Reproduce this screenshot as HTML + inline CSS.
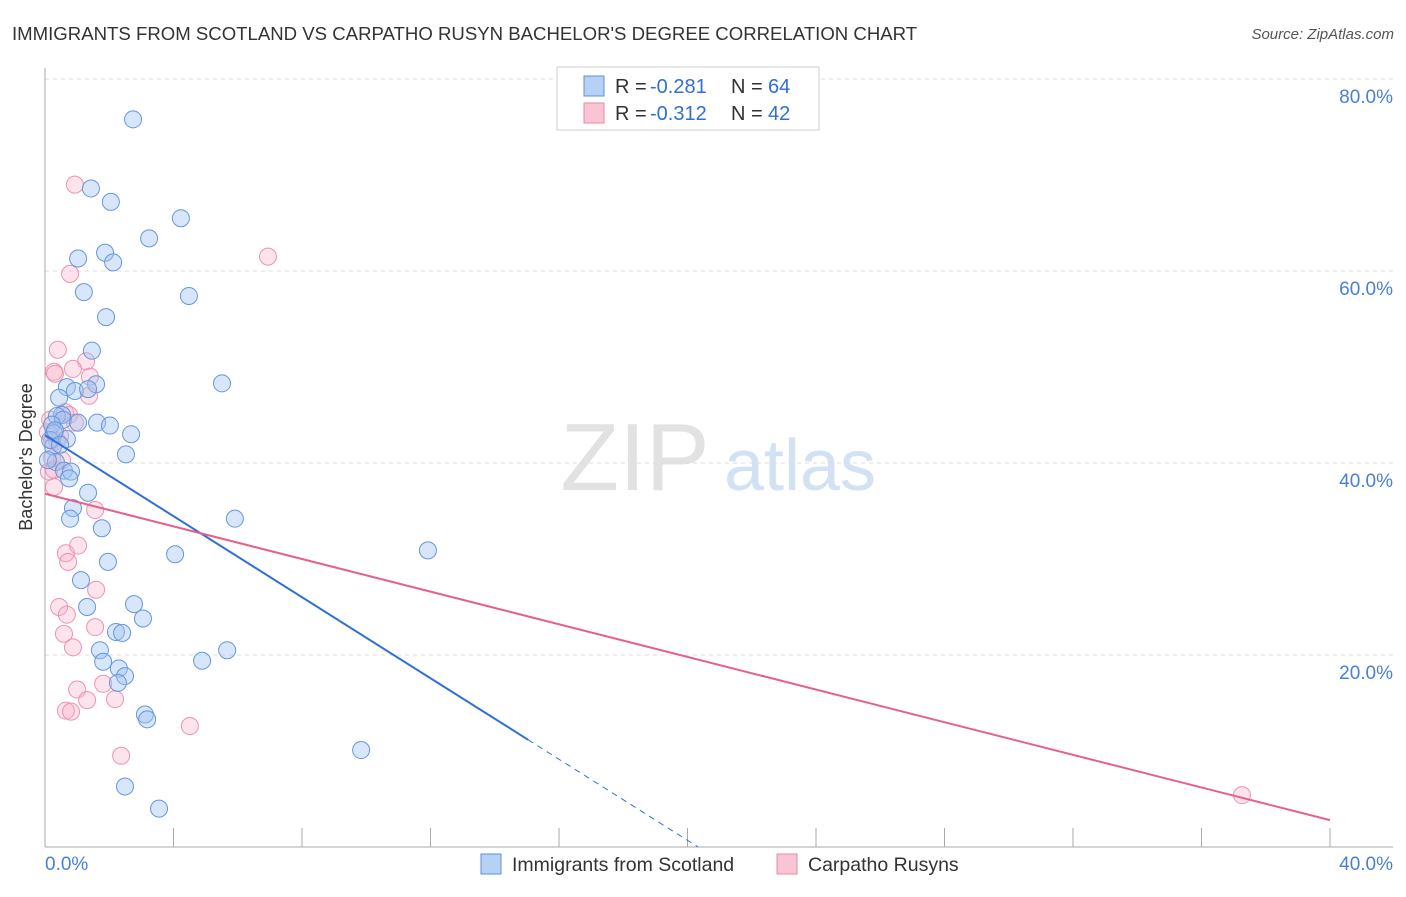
<!DOCTYPE html>
<html><head><meta charset="utf-8"><style>
body{margin:0;background:#fff;font-family:"Liberation Sans",sans-serif;}
svg text{font-family:"Liberation Sans",sans-serif;}
</style></head><body>
<svg width="1406" height="892" id="chart">
<text x="12" y="40" font-size="18.6" fill="#333">IMMIGRANTS FROM SCOTLAND VS CARPATHO RUSYN BACHELOR'S DEGREE CORRELATION CHART</text>
<text x="1394" y="39" font-size="15" fill="#555" font-style="italic" text-anchor="end">Source: ZipAtlas.com</text>
<text x="32" y="457" font-size="18" fill="#333" text-anchor="middle" transform="rotate(-90 32 457)">Bachelor's Degree</text>
<g><text x="635" y="490" font-size="96" fill="#e2e2e2" font-family="Liberation Serif" text-anchor="middle">ZIP</text><text x="800" y="490" font-size="72" fill="#d3e1f5" text-anchor="middle">atlas</text></g>
<g id="grid"></g><g id="axes"></g><g id="pts"></g><g id="trend"></g>
<g>
<rect x="557" y="67" width="262" height="63" fill="#fff" stroke="#ccc"/>
<rect x="584" y="76" width="20" height="20" fill="#b7d1f5" stroke="#5b8fdc"/>
<text x="615" y="93" font-size="20" fill="#333">R =</text><text x="650" y="93" font-size="20" fill="#2f6fd8">-0.281</text>
<text x="731" y="93" font-size="20" fill="#333">N =</text><text x="768" y="93" font-size="20" fill="#2f6fd8">64</text>
<rect x="584" y="103" width="20" height="20" fill="#f9c4d3" stroke="#e88aa8"/>
<text x="615" y="120" font-size="20" fill="#333">R =</text><text x="650" y="120" font-size="20" fill="#2f6fd8">-0.312</text>
<text x="731" y="120" font-size="20" fill="#333">N =</text><text x="768" y="120" font-size="20" fill="#2f6fd8">42</text>
</g>
<g>
<rect x="481" y="854" width="20" height="20" fill="#b7d1f5" stroke="#5b8fdc"/>
<text x="512" y="871" font-size="19.5" fill="#333">Immigrants from Scotland</text>
<rect x="777" y="854" width="20" height="20" fill="#f9c4d3" stroke="#e88aa8"/>
<text x="808" y="871" font-size="19.5" fill="#333">Carpatho Rusyns</text>
</g>
</svg>
<script>
const blueX=[2.74,1.43,2.05,4.23,3.24,1.03,1.87,2.12,1.21,4.48,1.90,1.46,5.51,0.68,1.59,0.93,1.34,0.44,0.53,0.37,0.56,1.03,1.62,2.02,2.68,0.22,0.28,0.68,2.52,0.25,0.34,0.59,0.81,0.75,1.34,0.87,0.78,5.91,1.77,4.05,11.92,1.96,1.12,2.77,1.31,3.05,2.21,2.40,1.71,5.67,4.89,1.81,2.30,2.49,2.27,3.11,3.18,9.84,2.49,3.55,0.16,0.31,0.47,0.09];
const blueY=[75.8,68.6,67.2,65.5,63.4,61.3,61.9,60.9,57.8,57.4,55.2,51.7,48.3,47.9,48.2,47.5,47.7,46.8,45.0,44.9,44.5,44.2,44.2,43.9,43.0,44.0,43.1,42.5,40.9,41.7,40.1,39.2,39.1,38.4,36.9,35.3,34.2,34.2,33.2,30.5,30.9,29.7,27.8,25.3,25.0,23.8,22.4,22.3,20.5,20.5,19.4,19.3,18.6,17.8,17.1,13.8,13.3,10.1,6.3,4.0,42.4,43.4,41.9,40.3];
const pinkX=[0.93,0.78,6.94,0.40,0.28,1.28,0.87,1.40,1.37,0.31,0.62,0.75,0.93,0.09,0.47,0.37,0.22,0.12,0.28,0.28,1.56,0.65,1.03,0.72,1.59,0.44,0.68,0.59,1.56,0.87,1.00,1.81,1.31,2.18,0.65,0.81,4.51,2.37,37.26,0.22,0.53,0.16];
const pinkY=[69.0,59.7,61.5,51.8,49.5,50.6,49.8,49.0,47.0,49.3,45.3,45.0,44.2,43.2,42.8,42.3,40.5,39.1,39.3,37.5,35.1,30.6,31.4,29.7,26.8,25.0,24.2,22.2,22.9,20.8,16.4,17.0,15.3,15.4,14.2,14.1,12.6,9.5,5.4,42.4,40.3,44.5];
const yTicks=[20,40,60,80];
const yTickLabels=["20.0%","40.0%","60.0%","80.0%"];
const blueTrend=[42.9,-2.11];
const pinkTrend=[36.8,-0.85];
const X0=45,X1=1330,Y0=847,Y1=79;
const sx=v=>X0+(v/40)*(X1-X0);
const sy=v=>Y0-(v/80)*(Y0-Y1);
const NS="http://www.w3.org/2000/svg";
function mk(p,t,a){const e=document.createElementNS(NS,t);for(const k in a)e.setAttribute(k,a[k]);p.appendChild(e);return e;}
const grid=document.getElementById('grid'),axes=document.getElementById('axes');
yTicks.forEach((t,i)=>{
 const l=mk(grid,'line',{x1:45,x2:1393,y1:sy(t),y2:sy(t),stroke:'#ddd','stroke-dasharray':'4,4'});
 
 
 const tx=mk(axes,'text',{x:1393,y:sy(t)+24,'font-size':19,fill:'#4a7fd6','text-anchor':'end'});
 tx.textContent=yTickLabels[i];
 
 
});
mk(axes,'line',{x1:45,x2:45,y1:68,y2:847,stroke:'#aaa'});
mk(axes,'line',{x1:45,x2:1393,y1:847,y2:847,stroke:'#aaa'});
for(let v=4;v<=40;v+=4){const t=mk(axes,'line',{x1:sx(v),x2:sx(v),y1:828,y2:847,stroke:'#aaa'});}
let a=mk(axes,'text',{x:45,y:870,'font-size':19,fill:'#4a7fd6'});a.textContent='0.0%';


a=mk(axes,'text',{x:1393,y:870,'font-size':19,fill:'#4a7fd6','text-anchor':'end'});a.textContent='40.0%';


const pts=document.getElementById('pts');
pinkX.forEach((x,i)=>{const c=mk(pts,'circle',{cx:sx(x),cy:sy(pinkY[i]),r:8.5,fill:'rgba(248,175,198,0.35)',stroke:'#eb93b0','stroke-width':1});
 
 });
blueX.forEach((x,i)=>{const c=mk(pts,'circle',{cx:sx(x),cy:sy(blueY[i]),r:8.5,fill:'rgba(160,196,240,0.42)',stroke:'#6696de','stroke-width':1});
 
 });
const tr=document.getElementById('trend');
const bEnd=15.04,bZero=-blueTrend[0]/blueTrend[1];
let l=mk(tr,'line',{x1:sx(0),y1:sy(blueTrend[0]),x2:sx(bEnd),y2:sy(blueTrend[0]+blueTrend[1]*bEnd),stroke:'#2f6fd8','stroke-width':2});


l=mk(tr,'line',{x1:sx(bEnd),y1:sy(blueTrend[0]+blueTrend[1]*bEnd),x2:sx(bZero),y2:sy(0),stroke:'#2f6fd8','stroke-width':1,'stroke-dasharray':'6,5'});


l=mk(tr,'line',{x1:sx(0),y1:sy(pinkTrend[0]),x2:sx(40),y2:sy(pinkTrend[0]+pinkTrend[1]*40),stroke:'#e5608d','stroke-width':2});


</script>
</body></html>
